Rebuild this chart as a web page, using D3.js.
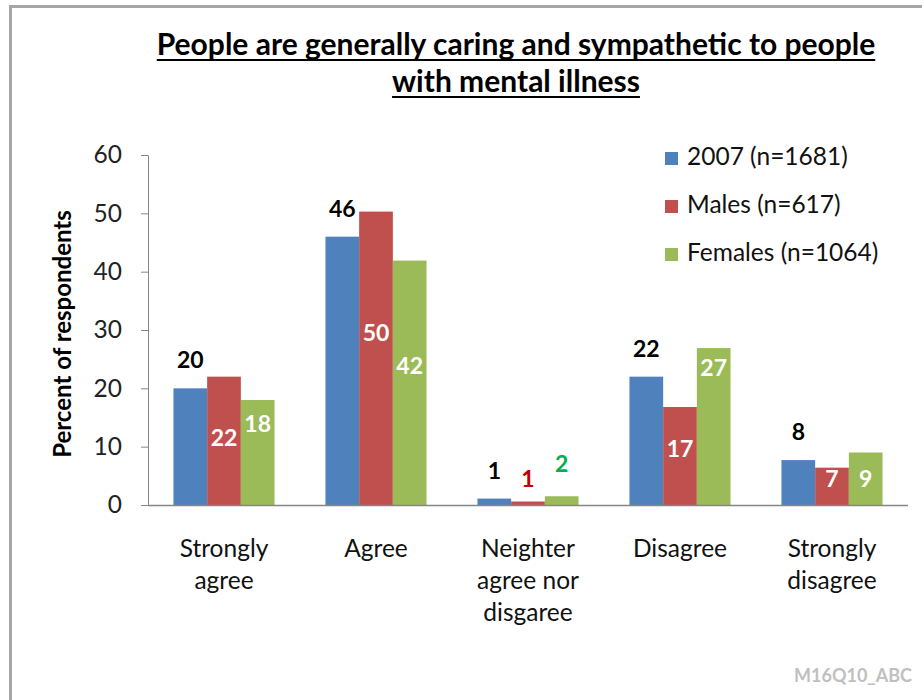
<!DOCTYPE html>
<html>
<head>
<meta charset="utf-8">
<script src="https://cdn.jsdelivr.net/npm/d3@7"></script>
<style>
  body { margin: 0; background: #fff; }
  svg { display: block; font-family: Lato, "Open Sans", sans-serif; }
</style>
</head>
<body>
<div class="chart"></div>
<script>
// data
var categories = [["Strongly", "agree"], ["Agree"], ["Neighter", "agree nor", "disgaree"], ["Disagree"], ["Strongly", "disagree"]];
var seriesNames = ["2007 (n=1681)", "Males (n=617)", "Females (n=1064)"];
var all2007 = [20, 46, 1.1, 22, 7.7];
var males = [22, 50.3, 0.6, 16.8, 6.4];
var females = [18, 41.9, 1.5, 26.9, 9];
var labels2007 = ["20", "46", "1", "22", "8"];
var labelsMales = ["22", "50", "1", "17", "7"];
var labelsFemales = ["18", "42", "2", "27", "9"];
var yTicks = [0, 10, 20, 30, 40, 50, 60];

// where the hand-placed labels sit, in axis units (baseline)
var malesLabelAt = [10.1, 28.2, 3.1, 8.2, 3.1];
var femalesLabelAt = [12.5, 22.4, 5.7, 22.2, 3.1];

var colors = ["#4f81bd", "#c0504d", "#9bbb59"];

var svgWidth = 922, svgHeight = 700;
var plotLeft = 148, plotRight = 908, plotTop = 155, plotBottom = 505;
var fs = 24.5;

var svg = d3.select(".chart").append("svg")
  .attr("width", svgWidth)
  .attr("height", svgHeight);

// outer frame
svg.append("rect")
  .attr("x", 10.5).attr("y", 6.5)
  .attr("width", 1000).attr("height", 1000)
  .attr("fill", "none")
  .attr("stroke", "#a6a6a6")
  .attr("stroke-width", 3);

var x0 = d3.scaleBand()
  .domain(d3.range(categories.length))
  .range([plotLeft, plotRight])
  .paddingInner(0.335)
  .paddingOuter(0.1675);

var x1 = d3.scaleBand()
  .domain(d3.range(3))
  .range([0, x0.bandwidth()]);

var y = d3.scaleLinear().domain([0, 60]).range([plotBottom, plotTop]);

var table = categories.map(function(c, i) {
  return [
    { s: 0, v: all2007[i], label: labels2007[i] },
    { s: 1, v: males[i], label: labelsMales[i], at: malesLabelAt[i] },
    { s: 2, v: females[i], label: labelsFemales[i], at: femalesLabelAt[i] }
  ];
});

// title
var title = svg.append("g").attr("font-weight", "bold").attr("font-size", 30).attr("text-anchor", "middle");
["People are generally caring and sympathetic to people", "with mental illness"].forEach(function(t, i) {
  var txt = title.append("text")
    .attr("x", 516).attr("y", 55 + i * 37)
    .attr("fill", "#000")
    .text(t);
  var w = txt.node().getComputedTextLength();
  title.append("line")
    .attr("x1", 516 - w / 2).attr("x2", 516 + w / 2)
    .attr("y1", 60 + i * 37).attr("y2", 60 + i * 37)
    .attr("stroke", "#000").attr("stroke-width", 2);
});

// y axis
var yAxis = svg.append("g")
  .attr("transform", "translate(" + plotLeft + ",0)")
  .call(d3.axisLeft(y).tickValues(yTicks).tickSize(7).tickSizeOuter(0).tickPadding(19));
yAxis.selectAll("path, line").attr("stroke", "#868686");
yAxis.selectAll("text").attr("font-size", fs).attr("fill", "#222").attr("font-family", "Lato, sans-serif");

svg.append("text")
  .attr("transform", "translate(71,334) rotate(-90)")
  .attr("text-anchor", "middle")
  .attr("font-weight", "bold")
  .attr("font-size", 24)
  .text("Percent of respondents");

// bars
var groups = svg.selectAll(".grp")
  .data(table)
  .enter().append("g")
  .attr("class", "grp")
  .attr("transform", function(d, i) { return "translate(" + x0(i) + ",0)"; });

groups.selectAll("rect")
  .data(function(d) { return d; })
  .enter().append("rect")
  .attr("x", function(d) { return x1(d.s); })
  .attr("width", x1.bandwidth())
  .attr("y", function(d) { return y(d.v); })
  .attr("height", function(d) { return plotBottom - y(d.v); })
  .attr("fill", function(d) { return colors[d.s]; });

// x axis line
svg.append("line")
  .attr("x1", plotLeft).attr("x2", plotRight)
  .attr("y1", plotBottom + 0.5).attr("y2", plotBottom + 0.5)
  .attr("stroke", "#868686").attr("stroke-width", 1.5);

// data labels
groups.selectAll(".lbl")
  .data(function(d) { return d; })
  .enter().append("text")
  .attr("class", "lbl")
  .attr("text-anchor", "middle")
  .attr("font-weight", "bold")
  .attr("font-size", 23)
  .attr("x", function(d) { return x1(d.s) + x1.bandwidth() / 2; })
  .attr("y", function(d) { return d.s === 0 ? y(d.v) - 20 : y(d.at); })
  .attr("fill", function(d) {
    if (d.s === 0) return "#000";
    if (d.v < 3) return d.s === 1 ? "#c00000" : "#00b050";
    return "#fff";
  })
  .text(function(d) { return d.label; });

// category labels
var cat = svg.selectAll(".cat")
  .data(categories)
  .enter().append("text")
  .attr("class", "cat")
  .attr("text-anchor", "middle")
  .attr("font-size", fs)
  .attr("fill", "#111")
  .attr("transform", function(d, i) { return "translate(" + (x0(i) + x0.bandwidth() / 2) + ",557)"; });
cat.selectAll("tspan")
  .data(function(d) { return d; })
  .enter().append("tspan")
  .attr("x", 0)
  .attr("y", function(d, i) { return i * 32; })
  .text(function(d) { return d; });

// legend
var legend = svg.selectAll(".leg")
  .data(seriesNames)
  .enter().append("g")
  .attr("class", "leg")
  .attr("transform", function(d, i) { return "translate(665," + (152 + i * 48) + ")"; });
legend.append("rect")
  .attr("width", 13).attr("height", 13)
  .attr("fill", function(d, i) { return colors[i]; });
legend.append("text")
  .attr("x", 22).attr("y", 13)
  .attr("font-size", fs)
  .attr("fill", "#111")
  .text(function(d) { return d; });

// footer code
svg.append("text")
  .attr("x", 912).attr("y", 682)
  .attr("text-anchor", "end")
  .attr("font-size", 18)
  .attr("font-weight", "bold")
  .attr("fill", "#c0c0c0")
  .text("M16Q10_ABC");
</script>
</body>
</html>
